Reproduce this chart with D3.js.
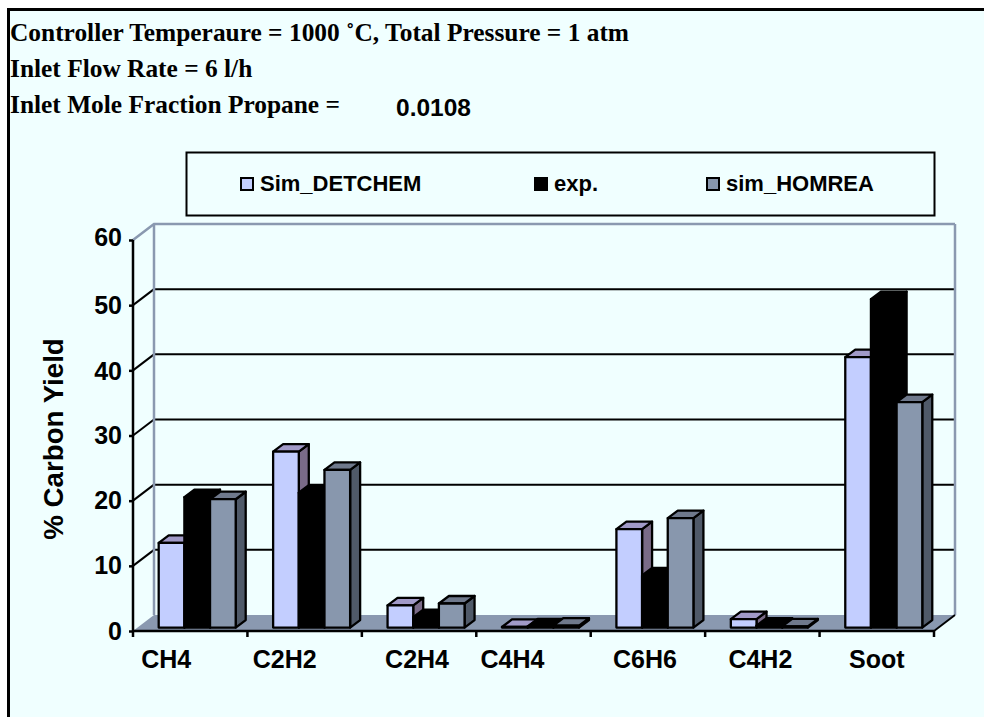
<!DOCTYPE html>
<html><head><meta charset="utf-8">
<script src="https://cdn.jsdelivr.net/npm/d3@7"></script>
<style>html,body{margin:0;padding:0;background:#fff}svg{display:block}</style>
</head><body><svg id="c" width="984" height="717"></svg>
<script>
const categories = ["CH4","C2H2","C2H4","C4H4","C6H6","C4H2","Soot"];
const seriesNames = ["Sim_DETCHEM","exp.","sim_HOMREA"];
const simDetchem = [13,27,3.4,0.1,15.1,1.3,41.5];
const expValues = [20,20.7,1.6,0.2,8,0.3,50.4];
const simHomrea = [19.7,24.2,3.7,0.3,16.8,0.2,34.6];
const yTicks = [0,10,20,30,40,50,60];
const tickLabelNudge = [-1,-1,-1,-1,0,-1,-4];
const categoryLabelNudge = [-24,-20,-2,-21,-3,-2,0];
const titleLines = ["Controller Temperaure = 1000 ˚C, Total Pressure = 1 atm","Inlet Flow Rate = 6 l/h","Inlet Mole Fraction Propane ="];
const titleValue = "0.0108";

const colors = [
 {front:"#c3ceff",top:"#a19ac8",side:"#7a6b88"},
 {front:"#000",top:"#000",side:"#000"},
 {front:"#8897ad",top:"#6f798c",side:"#505a69"}];
const sans="'Liberation Sans',Arial,sans-serif", serif="'Liberation Serif','Times New Roman',serif";
const svg=d3.select("#c");
const bg="#f0ffff", wallC="#8a99b0";
const x0=133,x1=934,yBase=631,yTop=240,dx=21,dy=-16;
const x=d3.scaleBand().domain(categories).range([x0,x1]);
const y=d3.scaleLinear().domain([0,60]).range([yBase,yTop]);
const sx=d3.scaleBand().domain(seriesNames).range([25.7,102.7]);
const barDrop=-3.4, depthX=10, depthY=-7.5;

svg.append("rect").attr("x",8.5).attr("y",9.5).attr("width",990).attr("height",720).attr("fill",bg).attr("stroke","#000").attr("stroke-width",3);

// floor
svg.append("path").attr("d",`M${x0},${yBase}L${x0+dx},${yBase+dy}L${x1+dx},${yBase+dy}L${x1},${yBase}Z`).attr("fill",wallC);
// gridlines on back and side wall
const g=svg.append("g").attr("fill","none");
yTicks.forEach(t=>{
  const yy=y(t);
  if(t>0&&t<60){
    g.append("line").attr("x1",x0+dx).attr("x2",x1+dx).attr("y1",yy+dy).attr("y2",yy+dy).attr("stroke","#000").attr("stroke-width",2);
    g.append("line").attr("x1",x0).attr("x2",x0+dx).attr("y1",yy).attr("y2",yy+dy).attr("stroke","#000").attr("stroke-width",2);
  }
});
// walls outline
g.append("path").attr("d",`M${x0},${yTop}L${x0+dx},${yTop+dy}L${x1+dx},${yTop+dy}`).attr("stroke",wallC).attr("stroke-width",2.5);
g.append("line").attr("x1",x0+dx).attr("x2",x0+dx).attr("y1",yTop+dy).attr("y2",yBase+dy).attr("stroke",wallC).attr("stroke-width",2.5);
g.append("line").attr("x1",x1+dx).attr("x2",x1+dx).attr("y1",yTop+dy).attr("y2",yBase+dy).attr("stroke",wallC).attr("stroke-width",2.5);
g.append("line").attr("x1",x1).attr("x2",x1+dx).attr("y1",yBase).attr("y2",yBase+dy).attr("stroke","#000").attr("stroke-width",2);

// bars
const rows=[simDetchem,expValues,simHomrea];
categories.forEach((c,i)=>{
  rows.forEach((vals,k)=>{
    const s=seriesNames[k], v=vals[i], col=colors[k];
    const l=x(c)+sx(s), w=sx.bandwidth(), r=l+w;
    const b=y(0)+barDrop, t=y(v)+barDrop;
    const bar=svg.append("g").attr("stroke","#000").attr("stroke-width",2.3).attr("stroke-linejoin","round");
    bar.append("path").attr("d",`M${r},${b}L${r+depthX},${b+depthY}L${r+depthX},${t+depthY}L${r},${t}Z`).attr("fill",col.side);
    bar.append("path").attr("d",`M${l},${t}L${l+depthX},${t+depthY}L${r+depthX},${t+depthY}L${r},${t}Z`).attr("fill",col.top);
    bar.append("rect").attr("x",l).attr("y",t).attr("width",w).attr("height",b-t).attr("fill",col.front);
  });
});

// axes
const ax=svg.append("g").attr("transform",`translate(${x0},0)`).call(d3.axisLeft(y).tickValues(yTicks).tickSize(4).tickPadding(7));
ax.selectAll("path,line").attr("stroke","#000").attr("stroke-width",2.5);
ax.select("path").attr("d",`M0,${yTop}V${yBase}`);
ax.selectAll("text").attr("font-family",sans).attr("font-weight","bold").attr("font-size",25).attr("fill","#000")
  .attr("dy",null).attr("dominant-baseline","central")
  .attr("y",(d,i)=>tickLabelNudge[i]);
const bx=svg.append("g").attr("transform",`translate(0,${yBase})`).call(d3.axisBottom(x).tickSize(0));
bx.select("path").attr("d",`M${x0},0H${x1}`).attr("stroke","#000").attr("stroke-width",2.5);
bx.selectAll(".tick").remove();
d3.range(8).forEach(i=>{
  const px= i<7 ? x(categories[i]) : x1;
  bx.append("line").attr("x1",px).attr("x2",px).attr("y1",0).attr("y2",6).attr("stroke","#000").attr("stroke-width",2.5);
});
svg.selectAll(null).data(categories).join("text")
  .attr("x",(d,i)=>x(d)+x.bandwidth()/2+categoryLabelNudge[i]).attr("y",668).attr("text-anchor","middle")
  .attr("font-family",sans).attr("font-weight","bold").attr("font-size",25).text(d=>d);

svg.append("text").attr("transform","translate(63,439) rotate(-90)").attr("text-anchor","middle")
  .attr("font-family",sans).attr("font-weight","bold").attr("font-size",27.7).text("% Carbon Yield");

// legend
svg.append("rect").attr("x",186.5).attr("y",152.5).attr("width",748).attr("height",63).attr("fill",bg).attr("stroke","#000").attr("stroke-width",2);
const lx=[241,535,707];
seriesNames.forEach((s,k)=>{
  svg.append("rect").attr("x",lx[k]).attr("y",178).attr("width",12).attr("height",12).attr("fill",colors[k].front).attr("stroke","#000").attr("stroke-width",2);
  svg.append("text").attr("x",lx[k]+19).attr("y",191).attr("font-family",sans).attr("font-weight","bold").attr("font-size",22).text(s);
});

// titles
[41,77,113].forEach((b,i)=>{
  svg.append("text").attr("x",10).attr("y",b).attr("font-family",serif).attr("font-weight","bold").attr("font-size",25.4).text(titleLines[i]);
});
svg.append("text").attr("x",396).attr("y",116).attr("font-family",sans).attr("font-weight","bold").attr("font-size",24.5).text(titleValue);
</script></body></html>
